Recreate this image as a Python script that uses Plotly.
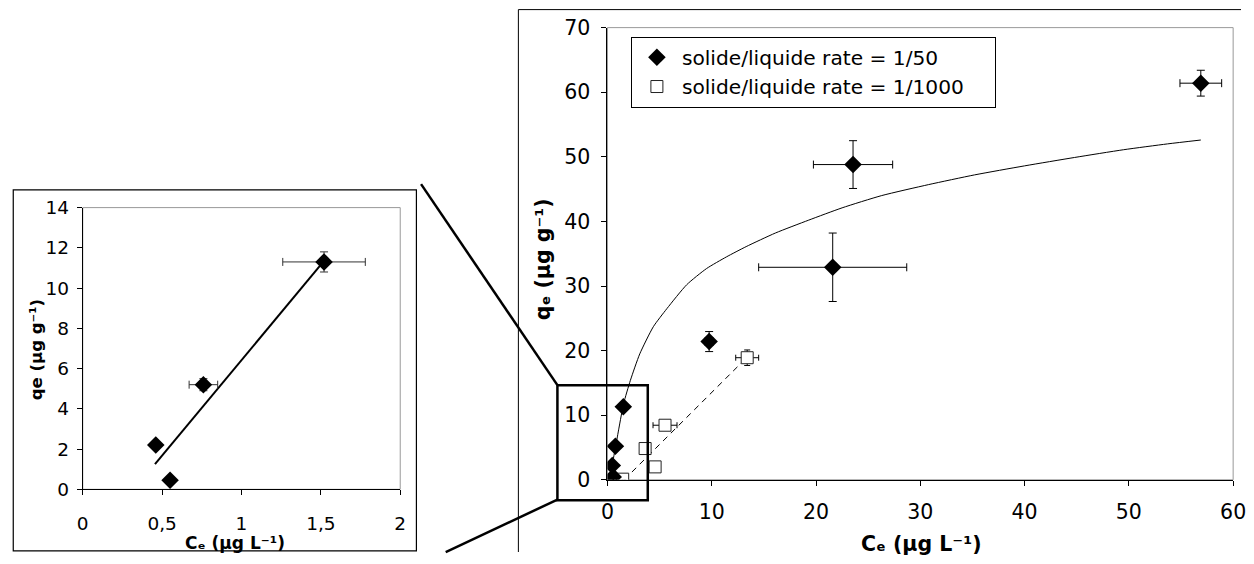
import plotly.graph_objects as go

# ---------------- data ----------------
# solide/liquide rate = 1/50  (filled diamonds)
ce_50 = [0.46, 0.55, 0.76, 1.52, 9.75, 21.6, 23.55, 56.9]
qe_50 = [2.2, 0.45, 5.2, 11.3, 21.4, 32.9, 48.8, 61.4]
ce_50_err = [0.0, 0.0, 0.09, 0.26, 0.4, 7.1, 3.8, 2.0]
qe_50_err = [0.0, 0.0, 0.3, 0.5, 1.55, 5.3, 3.7, 2.0]

# solide/liquide rate = 1/1000  (open squares)
ce_1000 = [1.46, 3.61, 4.57, 5.52, 13.4]
qe_1000 = [0.1, 4.84, 2.0, 8.45, 18.9]
ce_1000_err = [0.3, 0.2, 0.15, 1.15, 1.1]
qe_1000_err = [0.2, 0.5, 0.7, 0.5, 1.2]

# fitted isotherm curve (1/50)
curve_ce = [0.3, 0.46, 0.8, 1.1, 1.55, 2.2, 3.1, 4.4, 5.7, 7.6, 9.5, 11.4, 13.3,
            16.1, 19.3, 22.5, 26.3, 30.8, 35.2, 40.0, 44.8, 49.5, 53.7, 56.9]
curve_qe = [0.3, 2.3, 5.3, 8.0, 11.8, 15.4, 19.5, 23.7, 26.5, 30.2, 32.7, 34.5, 36.1,
            38.2, 40.2, 42.1, 44.0, 45.7, 47.2, 48.6, 49.9, 51.1, 52.0, 52.6]

# linear trend (1/1000)
fit_ce_1000 = [1.6, 13.4]
fit_qe_1000 = [0.0, 19.0]

# inset (zoom on low concentrations, 1/50)
inset_ce = ce_50[:4]
inset_qe = qe_50[:4]
inset_ce_err = ce_50_err[:4]
inset_qe_err = qe_50_err[:4]
inset_fit_ce = [0.455, 1.52]
inset_fit_qe = [1.25, 11.35]

main_xticks = [0, 10, 20, 30, 40, 50, 60]
main_yticks = [0, 10, 20, 30, 40, 50, 60, 70]
inset_xticks = [0, 0.5, 1, 1.5, 2]
inset_yticks = [0, 2, 4, 6, 8, 10, 12, 14]

names = ["solide/liquide rate = 1/50", "solide/liquide rate = 1/1000"]
PAD = "\u00a0" * 4

# ---------------- layout helpers ----------------
W, H = 1254, 564
FONT = "DejaVu Sans"
# compensation for the way the page is photographed (observed scale/offset)
SX, OX, SY, OY = 0.991, 5.7, 0.956, 12.4


def px(x):
    return ((x - OX) / SX) / W


def py(y):
    return 1 - ((y - OY) / SY) / H


fig = go.Figure()

# main chart traces
fig.add_trace(go.Scatter(x=curve_ce, y=curve_qe, mode="lines",
                         line=dict(color="black", width=1, shape="spline", smoothing=0.6),
                         showlegend=False, hoverinfo="skip", xaxis="x", yaxis="y"))
fig.add_trace(go.Scatter(x=fit_ce_1000, y=fit_qe_1000, mode="lines",
                         line=dict(color="black", width=1, dash="6px,5px"),
                         showlegend=False, hoverinfo="skip", xaxis="x", yaxis="y"))
fig.add_trace(go.Scatter(x=ce_1000, y=qe_1000, mode="markers", name=names[1] + PAD,
                         marker=dict(symbol="square", size=12, color="white", line=dict(color="#222", width=1)),
                         error_x=dict(type="data", array=ce_1000_err, color="black", thickness=1, width=3),
                         error_y=dict(type="data", array=qe_1000_err, color="black", thickness=1, width=3),
                         xaxis="x", yaxis="y"))
fig.add_trace(go.Scatter(x=ce_50, y=qe_50, mode="markers", name=names[0],
                         marker=dict(symbol="diamond", size=13.5, color="black"),
                         error_x=dict(type="data", array=ce_50_err, color="black", thickness=1, width=4),
                         error_y=dict(type="data", array=qe_50_err, color="black", thickness=1, width=4),
                         xaxis="x", yaxis="y"))

# inset traces
fig.add_trace(go.Scatter(x=inset_fit_ce, y=inset_fit_qe, mode="lines", line=dict(color="black", width=2),
                         showlegend=False, hoverinfo="skip", xaxis="x2", yaxis="y2"))
fig.add_trace(go.Scatter(x=inset_ce, y=inset_qe, mode="markers", showlegend=False,
                         marker=dict(symbol="diamond", size=13.5, color="black"),
                         error_x=dict(type="data", array=inset_ce_err, color="#333", thickness=1, width=4),
                         error_y=dict(type="data", array=inset_qe_err, color="#333", thickness=1, width=4),
                         xaxis="x2", yaxis="y2"))

axis_common = dict(showgrid=False, zeroline=False, showline=True, linecolor="black", linewidth=1,
                   ticks="outside", ticklen=5, tickcolor="black", tickwidth=1)

fig.update_layout(
    width=W, height=H,
    margin=dict(l=0, r=0, t=0, b=0),
    paper_bgcolor="white", plot_bgcolor="white",
    separators=", ",
    font=dict(family=FONT, color="black"),
    xaxis=dict(domain=[px(610.4), px(1240.5)], range=[0, 60], tickvals=main_xticks,
               tickfont=dict(size=20.5), ticklabelstandoff=9, ticklabeloverflow="allow",
               anchor="y", **axis_common),
    yaxis=dict(domain=[py(479.5), py(28)], range=[0, 70], tickvals=main_yticks,
               tickfont=dict(size=20.5), ticklabelstandoff=7, anchor="x", **axis_common),
    xaxis2=dict(domain=[px(82), px(401.7)], range=[0, 2], tickvals=inset_xticks,
                tickfont=dict(size=18.5), ticklabelstandoff=12, anchor="y2", **axis_common),
    yaxis2=dict(domain=[py(489), py(207.7)], range=[0, 14], tickvals=inset_yticks,
                tickfont=dict(size=18.5), ticklabelstandoff=4, anchor="x2", **axis_common),
    legend=dict(x=px(634), y=py(37), xanchor="left", yanchor="top", bgcolor="white",
                bordercolor="black", borderwidth=1, font=dict(size=20.2, family=FONT),
                traceorder="reversed", itemsizing="trace", itemwidth=40),
)

# plot-area borders (gray) and frames
fig.add_shape(type="rect", xref="x domain", yref="y domain", x0=0, x1=1, y0=0, y1=1,
              line=dict(color="#999", width=1), layer="below")
fig.add_shape(type="rect", xref="x2 domain", yref="y2 domain", x0=0, x1=1, y0=0, y1=1,
              line=dict(color="#999", width=1), layer="below")
# main chart frame: left and top edges (right/bottom lie outside the picture)
fig.add_shape(type="line", xref="paper", yref="paper", x0=px(520.7), x1=px(520.7), y0=0, y1=py(10),
              line=dict(color="black", width=1))
fig.add_shape(type="line", xref="paper", yref="paper", x0=px(520.7), x1=1, y0=py(10), y1=py(10),
              line=dict(color="black", width=1))
# inset frame
fig.add_shape(type="rect", xref="paper", yref="paper", x0=px(12), x1=px(418),
              y0=max(py(558), 0.002), y1=py(190), line=dict(color="black", width=1.2))
# zoom box and connectors
fig.add_shape(type="rect", xref="paper", yref="paper", x0=px(560), x1=px(651), y0=py(500), y1=py(385),
              line=dict(color="black", width=2.5))
fig.add_shape(type="line", xref="paper", yref="paper", x0=px(422.7), y0=py(184.3), x1=px(560), y1=py(385),
              line=dict(color="black", width=2.5))
fig.add_shape(type="line", xref="paper", yref="paper", x0=px(447.5), y0=py(551.6), x1=px(560), y1=py(499.3),
              line=dict(color="black", width=2.5))

# axis titles
fig.add_annotation(xref="paper", yref="paper", x=px(927), y=py(544), showarrow=False,
                   text="<b>Cₑ (µg L⁻¹)</b>", font=dict(size=20.5, family=FONT),
                   xanchor="center", yanchor="middle")
fig.add_annotation(xref="paper", yref="paper", x=px(545.7), y=py(259), showarrow=False, textangle=-90,
                   text="<b>qₑ (µg g⁻¹)</b>", font=dict(size=20.5, family=FONT),
                   xanchor="center", yanchor="middle")
fig.add_annotation(xref="paper", yref="paper", x=px(235.5), y=py(542.5), showarrow=False,
                   text="<b>Cₑ (µg L⁻¹)</b>", font=dict(size=17, family=FONT),
                   xanchor="center", yanchor="middle")
fig.add_annotation(xref="paper", yref="paper", x=px(35), y=py(350), showarrow=False, textangle=-90,
                   text="<b>qe (µg g⁻¹)</b>", font=dict(size=16.5, family=FONT),
                   xanchor="center", yanchor="middle")

POST = (
    "var gd=document.getElementById('{plot_id}');"
    "gd.style.position='fixed';gd.style.left='0px';gd.style.top='0px';gd.style.margin='0';"
    "document.body.style.margin='0';document.body.style.padding='0';"
    "document.body.style.overflow='hidden';document.documentElement.style.overflow='hidden';"
)

fig.write_html("out.html", config={"displayModeBar": False}, post_script=POST)
